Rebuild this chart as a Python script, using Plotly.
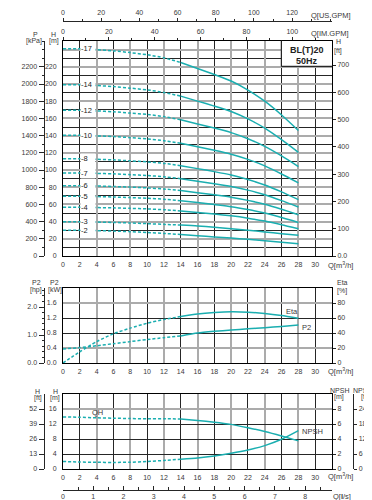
import plotly.graph_objects as go

# ---------------- data ----------------
Q = [0, 2, 4, 6, 8, 10, 12, 14, 16, 18, 20, 22, 24, 26, 28]   # m3/h

STAGE_LABELS = ["-17", "-14", "-12", "-10", "-8", "-7", "-6", "-5", "-4", "-3", "-2"]
H17 = [241, 241, 240, 238.5, 236.5, 234, 230.5, 225, 218, 211, 203.5, 193, 180, 164, 146]
H14 = [199, 199, 198.2, 197, 195.2, 193.2, 190.2, 185.9, 180.1, 174.3, 168, 159.4, 148.7, 135.3, 120.6]
H12 = [169.4, 169.4, 168.7, 167.7, 166.2, 164.6, 162.1, 158.4, 153.6, 148.8, 143.5, 136.4, 127.4, 116.3, 104]
H10 = [140.3, 140.3, 139.7, 138.9, 137.6, 136.2, 134.1, 131.0, 127.0, 122.9, 118.4, 112.4, 104.8, 95.4, 85.0]
H8 = [113, 113, 112.5, 111.8, 110.7, 109.5, 107.7, 105.0, 101.6, 98.1, 94.2, 89.0, 82.5, 74.5, 65.5]
H7 = [96.5, 96.5, 96.1, 95.5, 94.6, 93.6, 92.1, 89.9, 87.0, 84.1, 80.9, 76.6, 71.2, 64.4, 57.0]
H6 = [81.7, 81.7, 81.4, 80.8, 80.1, 79.2, 77.9, 76.1, 73.6, 71.1, 68.4, 64.7, 60.1, 54.3, 48.0]
H5 = [69.4, 69.4, 69.1, 68.6, 67.9, 67.2, 66.0, 64.3, 62.1, 59.8, 57.4, 54.0, 49.9, 44.7, 39.0]
H4 = [56.6, 56.6, 56.3, 56.0, 55.4, 54.8, 53.8, 52.4, 50.6, 48.8, 46.7, 44.0, 40.6, 36.4, 31.7]
H3 = [39.9, 39.8, 39.5, 39.0, 38.4, 37.6, 36.8, 36.0, 35.0, 33.5, 31.8, 30.0, 28.0, 26.0, 24.0]
H2 = [29.9, 29.8, 29.5, 29.0, 28.3, 27.4, 26.3, 25.0, 23.6, 22.2, 20.8, 19.4, 17.8, 16.1, 14.3]
STAGE_HEADS = [H17, H14, H12, H10, H8, H7, H6, H5, H4, H3, H2]

ETA = [0, 15, 28.5, 39, 46.5, 53, 58, 62, 65.3, 67.3, 68.4, 67.8, 66, 63.2, 59.6]        # %
P2 = [0.375, 0.41, 0.46, 0.515, 0.57, 0.625, 0.675, 0.72, 0.80, 0.845, 0.88, 0.91, 0.94, 0.975, 1.01]  # kW
QH1 = [13.9, 13.8, 13.65, 13.55, 13.45, 13.4, 13.4, 13.35, 12.95, 12.5, 11.9, 11.0, 10.0, 8.8, 7.5]   # m
NPSH = [1.0, 0.93, 0.89, 0.88, 0.9, 1.0, 1.14, 1.3, 1.47, 1.73, 2.09, 2.53, 3.12, 3.96, 5.12]          # m

Q_TICKS = list(range(0, 31, 2))
Q_GRID_HEAVY = [4, 8, 12, 16, 20, 24, 28]
Q_GRID_LIGHT = [2, 6, 10, 14, 18, 22, 26, 30]
H_TICKS = list(range(0, 241, 20))
KPA_TICKS = list(range(0, 2201, 200))
FT_TICKS = list(range(0, 701, 100))
IMGPM_TICKS = [0, 20, 40, 60, 80, 100]
USGPM_TICKS = [0, 20, 40, 60, 80, 100, 120]
P2KW_TICKS = [0, 0.4, 0.8, 1.2, 1.6, 2.0]
P2KW_GRID_HEAVY = [0.4, 1.6]
P2HP_TICKS = [0, 1, 2]
ETA_TICKS = [0, 20, 40, 60, 80]
HM_TICKS = [0, 4, 8, 12, 16, 20]
HM_GRID_HEAVY = [16]
HFT_TICKS = [0, 13, 26, 39, 52]
NPSHM_TICKS = [0, 2, 4, 6, 8]
NPSHFT_TICKS = [0, 6, 12, 18, 24]
LS_TICKS = [0, 1, 2, 3, 4, 5, 6, 7, 8]

Q_MAX = 32
IMGPM_PER_M3H = 1 / 0.27277
USGPM_PER_M3H = 1 / 0.22712
LS_PER_M3H = 1 / 3.6

# ---------------- geometry / style ----------------
W, HGT = 372, 500
def px(x): return x / W
def py(y): return 1 - y / HGT

X0, X1 = px(55), px(324)
TOP = [py(248), py(33)]
MID = [py(355), py(280)]
BOT = [py(461), py(386)]
LEFT2 = px(35.5)

TEAL = '#1aaeb0'
BLK = '#262626'
GRY = '#ababab'
TXT = '#3a3a3a'
NONE = 'rgba(0,0,0,0)'
TF = dict(size=7, color=TXT)
DASH = '3px,2px'

fig = go.Figure()

def curve(xs, ys, xa, ya, split=7):
    fig.add_trace(go.Scatter(x=xs[:split + 1], y=ys[:split + 1], xaxis=xa, yaxis=ya, mode='lines',
                             line=dict(color=TEAL, width=1.5, dash=DASH, shape='spline', smoothing=0.6),
                             hoverinfo='skip', showlegend=False))
    fig.add_trace(go.Scatter(x=xs[split:], y=ys[split:], xaxis=xa, yaxis=ya, mode='lines',
                             line=dict(color=TEAL, width=1.5, shape='spline', smoothing=0.6),
                             hoverinfo='skip', showlegend=False))

def dummy(xa, ya):
    fig.add_trace(go.Scatter(x=[0], y=[0], xaxis=xa, yaxis=ya, mode='markers',
                             marker=dict(opacity=0, size=1), hoverinfo='skip', showlegend=False))

# invisible anchors so that every auxiliary axis gets drawn (added first -> grids under curves)
for xa, ya in [('x2', 'y'), ('x3', 'y'), ('x', 'y2'), ('x', 'y3'), ('x4', 'y6'),
               ('x5', 'y8'), ('x5', 'y10'), ('x6', 'y7'),
               ('x7', 'y'), ('x8', 'y4'), ('x9', 'y7'), ('x4', 'y11'), ('x5', 'y12')]:
    dummy(xa, ya)

for hs in STAGE_HEADS:
    curve(Q, hs, 'x', 'y')
curve(Q, P2, 'x4', 'y4')
curve(Q, ETA, 'x4', 'y5')
curve(Q, QH1, 'x5', 'y7')
curve(Q, NPSH, 'x5', 'y9')

base = dict(zeroline=False, fixedrange=True, tickfont=TF, showgrid=False, automargin=False)

def qgrid_axis(anchor):
    return dict(base, domain=[X0, X1], anchor=anchor, range=[0, Q_MAX], tickmode='array',
                tickvals=Q_GRID_HEAVY, showticklabels=False, ticks='',
                showgrid=True, gridcolor=GRY, gridwidth=2,
                minor=dict(tickmode='array', tickvals=Q_GRID_LIGHT, showgrid=True,
                           gridcolor=BLK, gridwidth=1, ticks=''),
                showline=True, mirror=True, linecolor='black', linewidth=1)

def qlabel_axis(over, anchor):
    return dict(base, overlaying=over, anchor=anchor, side='bottom', range=[0, Q_MAX],
                tickmode='array', tickvals=Q_TICKS, ticks='outside', ticklen=2,
                tickcolor=NONE, showline=False)

def main_y(domain, anchor, rng, vals, text, **kw):
    d = dict(base, domain=domain, anchor=anchor, range=rng, tickmode='array', tickvals=vals,
             ticktext=text, showgrid=True, gridcolor=BLK, gridwidth=1,
             showline=True, mirror=True, linecolor='black', linewidth=1,
             ticks='outside', ticklen=4, tickcolor=NONE)
    d.update(kw)
    return d

def heavy_y(over, anchor, rng, vals):
    return dict(base, overlaying=over, anchor=anchor, side='left', range=rng, tickmode='array',
                tickvals=vals, showticklabels=False, ticks='', showgrid=True,
                gridcolor=GRY, gridwidth=2, showline=False)

def side_y(over, rng, vals, text=None, side='left', anchor='free', position=None, ticklen=4,
           minor=None, line=True):
    d = dict(base, overlaying=over, side=side, anchor=anchor, range=rng, tickmode='array',
             tickvals=vals, ticks='outside', ticklen=ticklen, tickcolor=BLK, tickwidth=1,
             showline=line, linecolor=BLK, linewidth=1)
    if text is not None:
        d['ticktext'] = text
    if position is not None:
        d['position'] = position
    if minor is not None:
        d['minor'] = minor
    return d

fig.update_layout(
    width=W, height=HGT, autosize=False,
    margin=dict(l=0, r=0, t=0, b=0, pad=0, autoexpand=False),
    paper_bgcolor='white', plot_bgcolor='white', showlegend=False,
    font=dict(family='Liberation Sans, Arial, sans-serif', size=7, color=TXT),
    # ---- top chart ----
    xaxis=qgrid_axis('y'),
    xaxis7=qlabel_axis('x', 'y'),
    xaxis2=dict(base, overlaying='x', side='top', anchor='y', range=[0, Q_MAX * IMGPM_PER_M3H],
                tickmode='array', tickvals=IMGPM_TICKS, ticks='outside', ticklen=3, tickcolor=BLK,
                minor=dict(dtick=10, ticks='outside', ticklen=2, tickcolor=BLK), showline=False),
    xaxis3=dict(base, overlaying='x', side='top', anchor='free', position=py(13),
                range=[0, Q_MAX * USGPM_PER_M3H], tickmode='array', tickvals=USGPM_TICKS,
                ticks='outside', ticklen=3, tickcolor=BLK,
                minor=dict(dtick=10, ticks='outside', ticklen=2, tickcolor=BLK),
                showline=True, linecolor=BLK, linewidth=1),
    yaxis=main_y(TOP, 'x', [0, 250], H_TICKS, [str(v) if v < 240 else '' for v in H_TICKS],
                 gridcolor=GRY, gridwidth=2,
                 minor=dict(dtick=10, showgrid=True, gridcolor=BLK, gridwidth=1)),
    yaxis2=side_y('y', [0, 2500], KPA_TICKS, position=LEFT2, ticklen=5,
                  minor=dict(dtick=100, ticks='outside', ticklen=2, tickcolor=BLK)),
    yaxis3=side_y('y', [0, 788], FT_TICKS, ['0.0'] + [str(v) for v in FT_TICKS[1:]],
                  side='right', anchor='x', ticklen=3, line=False),
    # ---- middle chart ----
    xaxis4=qgrid_axis('y4'),
    xaxis8=qlabel_axis('x4', 'y4'),
    yaxis4=main_y(MID, 'x4', [0, 2.0], P2KW_TICKS, ['0.0', '0.4', '0.8', '1.2', '1.6', '']),
    yaxis11=heavy_y('y4', 'x4', [0, 2.0], P2KW_GRID_HEAVY),
    yaxis5=side_y('y4', [0, 100], ETA_TICKS, side='right', anchor='x4', ticklen=3, line=False),
    yaxis6=side_y('y4', [0, 2.68], P2HP_TICKS, ['0.0', '1.0', '2.0'], position=LEFT2, ticklen=5,
                  minor=dict(dtick=0.2, ticks='outside', ticklen=2, tickcolor=BLK)),
    # ---- bottom chart ----
    xaxis5=qgrid_axis('y7'),
    xaxis9=qlabel_axis('x5', 'y7'),
    xaxis6=dict(base, overlaying='x5', side='bottom', anchor='free', position=py(481.7),
                range=[0, Q_MAX * LS_PER_M3H], tickmode='array', tickvals=LS_TICKS,
                ticks='inside', ticklen=4, tickcolor=BLK,
                minor=dict(dtick=0.5, ticks='inside', ticklen=3, tickcolor=BLK),
                showline=True, linecolor=BLK, linewidth=1),
    yaxis7=main_y(BOT, 'x5', [0, 20], HM_TICKS, ['0', '4', '8', '12', '16', '']),
    yaxis12=heavy_y('y7', 'x5', [0, 20], HM_GRID_HEAVY),
    yaxis8=side_y('y7', [0, 65], HFT_TICKS, position=LEFT2, ticklen=5),
    yaxis9=side_y('y7', [0, 10], NPSHM_TICKS, side='right', anchor='x5', ticklen=3, line=False),
    yaxis10=side_y('y7', [0, 30], NPSHFT_TICKS, side='right', position=px(345.3), ticklen=3),
)

# model box
fig.update_layout(shapes=[dict(type='rect', xref='paper', yref='paper', x0=px(273.3), x1=px(324.5),
                               y0=py(58.3), y1=py(32.5), fillcolor='white',
                               line=dict(color='black', width=1), layer='above')])

# ---- annotations ----
ann = []
def ptext(t, x, y, xanchor='center', size=7, bold=False, color=TXT):
    ann.append(dict(text=('<b>%s</b>' % t) if bold else t, x=px(x), y=py(y), xref='paper', yref='paper',
                    xanchor=xanchor, yanchor='middle', showarrow=False,
                    font=dict(size=size, color=color)))

ptext('P', 27.3, 26); ptext('[kPa]', 25.8, 32.7)
ptext('H', 45, 26); ptext('[m]', 45.5, 32.7)
ptext('H', 330, 33.3); ptext('[ft]', 330, 42.7)
ptext('Q[US.GPM]', 301, 7.3, 'left', size=7.5)
ptext('Q[IM.GPM]', 301, 25, 'left', size=7.5)
ptext('Q[m<sup>3</sup>/h]', 317.5, 256.7, 'left', size=7.5)
ptext('Q[m<sup>3</sup>/h]', 317.5, 362.7, 'left', size=7.5)
ptext('Q[m<sup>3</sup>/h]', 317.5, 468.3, 'left', size=7.5)
ptext('Q[<b>l</b>/s]', 323, 488.3, 'left', size=7.5)
ptext('P2', 28.3, 274.3); ptext('[hp]', 28.3, 282)
ptext('P2', 46.7, 274.3); ptext('[kW]', 46.7, 282)
ptext('Eta', 334.3, 274.3); ptext('[%]', 334.3, 282.5)
ptext('H', 29.5, 383.3); ptext('[ft]', 29.5, 389.5)
ptext('H', 47, 383.3); ptext('[m]', 47, 389.5)
ptext('NPSH', 331, 382.7); ptext('[m]', 331, 389.3)
ptext('NPSH', 354.5, 382.7); ptext('[ft]', 356.5, 389.3)
ptext('BL(T)20', 299, 41.7, size=9, bold=True, color='#222')
ptext('50Hz', 299, 52.7, size=9, bold=True, color='#222')

for lab, hs in zip(STAGE_LABELS, STAGE_HEADS):
    ann.append(dict(text=lab, x=2.93, y=hs[0], xref='x', yref='y', xanchor='center', yanchor='middle',
                    showarrow=False, bgcolor='white', borderpad=0, width=14, align='left',
                    font=dict(size=7.5, color='#222')))

ann.append(dict(text='Eta', x=27.2, y=68.4, xref='x4', yref='y5', showarrow=False,
                font=dict(size=7.5, color=TXT)))
ann.append(dict(text='P2', x=28.2, y=0.96, xref='x4', yref='y4', xanchor='left', showarrow=False,
                font=dict(size=7.5, color=TXT)))
ann.append(dict(text='QH', x=4.07, y=15.0, xref='x5', yref='y7', showarrow=False,
                font=dict(size=7.5, color=TXT)))
ann.append(dict(text='NPSH', x=28.2, y=5.0, xref='x5', yref='y9', xanchor='left', showarrow=False,
                font=dict(size=7.5, color=TXT)))
fig.update_layout(annotations=ann)

fig.write_html('out.html')
